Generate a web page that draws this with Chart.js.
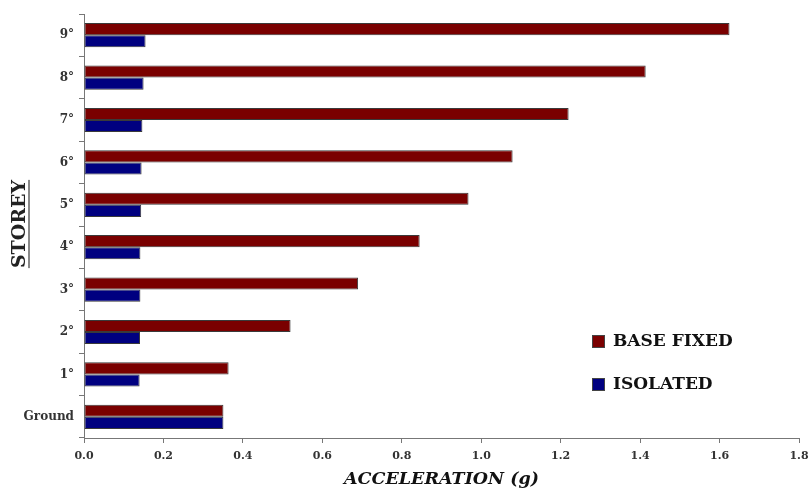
<!DOCTYPE html>
<html>
<head>
<meta charset="utf-8">
<script src="https://cdn.jsdelivr.net/npm/chart.js@4/dist/chart.umd.min.js"></script>
<style>
html,body{margin:0;padding:0;background:#fff;}
#wrap{width:811px;height:490px;position:relative;}
</style>
</head>
<body>
<div id="wrap"><canvas id="c" width="811" height="490"></canvas></div>
<script>
const categories = ["9°","8°","7°","6°","5°","4°","3°","2°","1°","Ground"];
const baseFixed = [1.625, 1.414, 1.22, 1.079, 0.968, 0.845, 0.69, 0.52, 0.364, 0.351];
const isolated  = [0.155, 0.150, 0.147, 0.145, 0.144, 0.142, 0.142, 0.141, 0.140, 0.351];
const xTicks = [0, 0.2, 0.4, 0.6, 0.8, 1.0, 1.2, 1.4, 1.6, 1.8];
const seriesNames = ["BASE FIXED", "ISOLATED"];
const seriesColors = ["#7a0000", "#000080"];

const legendPlugin = {
  id: 'customLegend',
  afterDraw(chart) {
    const ctx = chart.ctx;
    ctx.save();
    const x0 = 592, ys = [341, 384];
    chart.data.datasets.forEach((ds, i) => {
      const y = ys[i];
      ctx.fillStyle = ds.backgroundColor;
      ctx.fillRect(x0, y - 6, 13, 13);
      ctx.strokeStyle = '#444';
      ctx.lineWidth = 1;
      ctx.strokeRect(x0 + 0.5, y - 5.5, 12, 12);
      ctx.fillStyle = '#111';
      ctx.font = 'bold 17px "DejaVu Serif", serif';
      ctx.textBaseline = 'middle';
      ctx.textAlign = 'left';
      ctx.fillText(ds.label, x0 + 21, y + 1);
    });
    ctx.restore();
  }
};

new Chart(document.getElementById('c'), {
  type: 'bar',
  data: {
    labels: categories,
    datasets: [
      { label: seriesNames[0], data: baseFixed, backgroundColor: seriesColors[0], borderColor: '#3a3a3a', borderWidth: 1, borderSkipped: false },
      { label: seriesNames[1], data: isolated, backgroundColor: seriesColors[1], borderColor: '#3a3a3a', borderWidth: 1, borderSkipped: false }
    ]
  },
  options: {
    indexAxis: 'y',
    responsive: false,
    animation: false,
    maintainAspectRatio: false,
    layout: { padding: { top: 14, right: 12, left: 0, bottom: 0 } },
    datasets: { bar: { barPercentage: 1.0, categoryPercentage: 0.57 } },
    plugins: {
      legend: { display: false },
      tooltip: { enabled: false }
    },
    scales: {
      x: {
        min: 0, max: 1.8,
        afterBuildTicks(scale) { scale.ticks = xTicks.map(v => ({ value: v })); },
        afterFit(scale) { scale.height = 52; scale.paddingRight = 0; scale.paddingLeft = 0; },
        grid: { display: true, drawOnChartArea: false, drawTicks: true, tickLength: 5, color: '#777' },
        border: { display: true, color: '#777', width: 1 },
        ticks: {
          color: '#333',
          padding: 7,
          maxRotation: 0,
          autoSkip: false,
          font: { family: '"DejaVu Serif", serif', size: 11, weight: 'bold' },
          callback: v => v.toFixed(1)
        },
        title: {
          display: true,
          text: 'ACCELERATION (g)',
          color: '#111',
          padding: { top: 1, bottom: 0 },
          font: { family: '"DejaVu Serif", serif', size: 17.5, weight: 'bold', style: 'italic' }
        }
      },
      y: {
        afterFit(scale) { scale.width = 84; },
        grid: { display: true, drawOnChartArea: false, drawTicks: true, offset: true, tickLength: 5, color: '#777' },
        border: { display: true, color: '#777', width: 1 },
        ticks: {
          color: '#333',
          padding: 5,
          font: { family: '"DejaVu Serif", serif', size: 12, weight: 'bold' }
        },
        title: { display: false }
      }
    }
  },
  plugins: [legendPlugin, {
    id: 'yTitle',
    afterDraw(chart) {
      const ctx = chart.ctx;
      ctx.save();
      ctx.translate(20, 224);
      ctx.rotate(-Math.PI / 2);
      ctx.font = 'bold 19px "DejaVu Serif", serif';
      ctx.fillStyle = '#222';
      ctx.textAlign = 'center';
      ctx.textBaseline = 'middle';
      const t = 'STOREY';
      ctx.fillText(t, 0, 0);
      const w = ctx.measureText(t).width;
      ctx.fillStyle = '#888';
      ctx.fillRect(-w / 2, 8, w, 2);
      ctx.restore();
    }
  }]
});
</script>
</body>
</html>
